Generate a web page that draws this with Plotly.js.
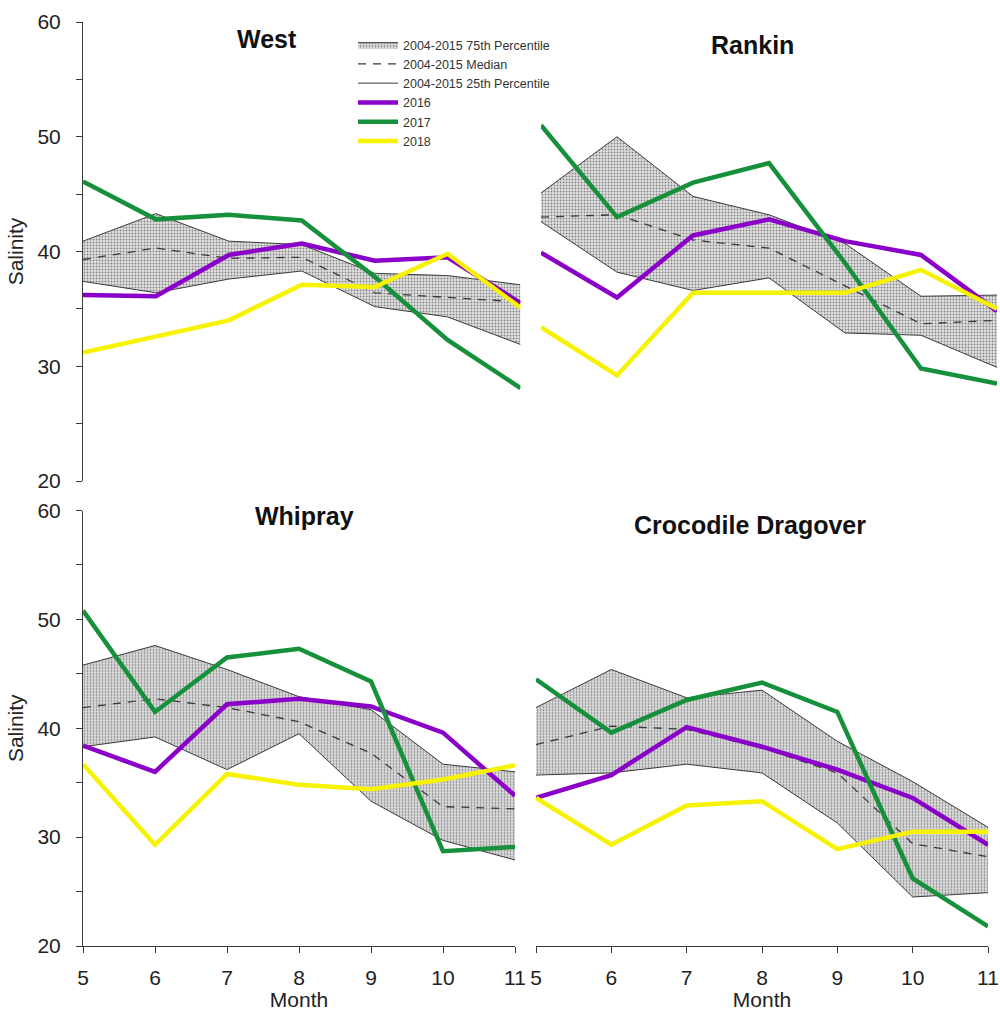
<!DOCTYPE html>
<html>
<head>
<meta charset="utf-8">
<script src="https://cdn.plot.ly/plotly-3.0.1.min.js"></script>
<style>
  html, body { margin: 0; padding: 0; background: #ffffff; }
  #chart { width: 1000px; height: 1011px; }
</style>
</head>
<body>
<div id="chart"></div>
<script>
// Monthly salinity: 2004-2015 percentile envelope vs. 2016-2018 by station
const months = [5, 6, 7, 8, 9, 10, 11];
const monthTicks = ['5', '6', '7', '8', '9', '10', '11'];
const stations = ['West', 'Rankin', 'Whipray', 'Crocodile Dragover'];

const westP75    = [40.9, 43.3, 40.9, 40.6, 38.1, 37.9, 37.1];
const westMedian = [39.3, 40.3, 39.4, 39.5, 36.4, 36.0, 35.6];
const westP25    = [37.4, 36.4, 37.6, 38.3, 35.2, 34.3, 31.9];
const west2016   = [36.2, 36.1, 39.7, 40.7, 39.2, 39.5, 35.5];
const west2017   = [46.1, 42.8, 43.2, 42.7, 37.8, 32.3, 28.1];
const west2018   = [31.2, 32.6, 34.0, 37.1, 36.9, 39.8, 35.1];

const rankinP75    = [45.1, 50.0, 44.8, 43.2, 40.7, 36.1, 36.2];
const rankinMedian = [43.0, 43.2, 41.0, 40.3, 37.0, 33.7, 34.0];
const rankinP25    = [42.6, 38.2, 36.6, 37.7, 32.9, 32.7, 29.9];
const rankin2016   = [39.9, 36.0, 41.4, 42.8, 40.9, 39.7, 34.8];
const rankin2017   = [51.0, 43.0, 46.0, 47.7, 39.0, 29.8, 28.5];
const rankin2018   = [33.4, 29.2, 36.4, 36.4, 36.4, 38.4, 35.0];

const whiprayP75    = [45.8, 47.6, 45.4, 42.9, 41.7, 36.7, 36.0];
const whiprayMedian = [41.9, 42.7, 41.9, 40.6, 37.7, 32.8, 32.6];
const whiprayP25    = [38.3, 39.2, 36.2, 39.5, 33.3, 29.7, 27.9];
const whipray2016   = [38.4, 36.0, 42.2, 42.7, 42.0, 39.6, 33.8];
const whipray2017   = [50.8, 41.5, 46.5, 47.3, 44.3, 28.7, 29.1];
const whipray2018   = [36.7, 29.3, 35.8, 34.8, 34.4, 35.3, 36.6];

const crocP75    = [41.9, 45.4, 42.8, 43.5, 38.8, 35.1, 30.9];
const crocMedian = [38.5, 40.2, 39.9, 38.2, 35.9, 29.4, 28.2];
const crocP25    = [35.7, 35.9, 36.7, 35.9, 31.3, 24.5, 24.9];
const croc2016   = [33.6, 35.7, 40.1, 38.3, 36.2, 33.6, 29.3];
const croc2017   = [44.5, 39.6, 42.6, 44.2, 41.5, 26.2, 21.8];
const croc2018   = [33.6, 29.3, 32.9, 33.3, 28.9, 30.5, 30.5];

const panels = [
  { name: stations[0], p75: westP75, med: westMedian, p25: westP25, s16: west2016, s17: west2017, s18: west2018, xa: 'x', ya: 'y' },
  { name: stations[1], p75: rankinP75, med: rankinMedian, p25: rankinP25, s16: rankin2016, s17: rankin2017, s18: rankin2018, xa: 'x2', ya: 'y2' },
  { name: stations[2], p75: whiprayP75, med: whiprayMedian, p25: whiprayP25, s16: whipray2016, s17: whipray2017, s18: whipray2018, xa: 'x3', ya: 'y3' },
  { name: stations[3], p75: crocP75, med: crocMedian, p25: crocP25, s16: croc2016, s17: croc2017, s18: croc2018, xa: 'x4', ya: 'y4' }
];

const FONT = 'Arial, "Liberation Sans", sans-serif';
const EDGE = '#3a3a3a';
const PURPLE = '#8a00c8';
const GREEN = '#16903a';
const YELLOW = '#f6f200';

const traces = [];
panels.forEach((p, i) => {
  const first = i === 0;
  traces.push({
    x: months, y: p.p25, xaxis: p.xa, yaxis: p.ya, mode: 'lines',
    name: '2004-2015 25th Percentile', legendrank: 3, showlegend: first,
    line: { color: EDGE, width: 1 }, hoverinfo: 'skip'
  });
  traces.push({
    x: months, y: p.p75, xaxis: p.xa, yaxis: p.ya, mode: 'lines',
    name: '2004-2015 75th Percentile', legendrank: 1, showlegend: first,
    line: { color: EDGE, width: 1 },
    fill: 'tonexty', fillcolor: '#d4d4d4',
    fillpattern: { shape: '.', size: 3, solidity: 0.3, fgcolor: '#858585', bgcolor: '#e0e0e0' },
    hoverinfo: 'skip'
  });
  traces.push({
    x: months, y: p.med, xaxis: p.xa, yaxis: p.ya, mode: 'lines',
    name: '2004-2015 Median', legendrank: 2, showlegend: first,
    line: { color: EDGE, width: 1.3, dash: '8px,7px' }
  });
  traces.push({
    x: months, y: p.s16, xaxis: p.xa, yaxis: p.ya, mode: 'lines',
    name: '2016', legendrank: 4, showlegend: first,
    line: { color: PURPLE, width: 4.5 }
  });
  traces.push({
    x: months, y: p.s17, xaxis: p.xa, yaxis: p.ya, mode: 'lines',
    name: '2017', legendrank: 5, showlegend: first,
    line: { color: GREEN, width: 4.5 }
  });
  traces.push({
    x: months, y: p.s18, xaxis: p.xa, yaxis: p.ya, mode: 'lines',
    name: '2018', legendrank: 6, showlegend: first,
    line: { color: YELLOW, width: 4.5 }
  });
});

const W = 1000, H = 1011;
const px = v => v / W;
const py = v => 1 - v / H;

const salinityAxis = (top, bottom, anchor) => ({
  domain: [py(bottom), py(top)], range: [20, 60], anchor: anchor,
  showline: true, linecolor: EDGE, linewidth: 1, mirror: false,
  ticks: 'outside', ticklen: 6, tickwidth: 1, tickcolor: EDGE,
  tickmode: 'linear', tick0: 20, dtick: 10,
  minor: { dtick: 5, ticks: 'outside', ticklen: 6, tickwidth: 1, tickcolor: EDGE, showgrid: false },
  tickfont: { family: FONT, size: 21, color: '#222' },
  ticklabelstandoff: 11,
  showgrid: false, zeroline: false,
  title: { text: 'Salinity', font: { family: FONT, size: 21, color: '#222' }, standoff: 8 }
});

const hiddenY = (top, bottom, anchor) => ({
  domain: [py(bottom), py(top)], range: [20, 60], anchor: anchor, visible: false
});

const hiddenX = (left, right, anchor) => ({
  domain: [px(left), px(right)], range: [5, 11], anchor: anchor, visible: false
});

const monthAxis = (left, right, anchor) => ({
  domain: [px(left), px(right)], range: [5, 11], anchor: anchor,
  showline: true, linecolor: EDGE, linewidth: 1,
  ticks: 'outside', ticklen: 6, tickwidth: 1, tickcolor: EDGE,
  tickmode: 'array', tickvals: months, ticktext: monthTicks,
  tickfont: { family: FONT, size: 21, color: '#222' },
  ticklabelstandoff: 7,
  showgrid: false, zeroline: false,
  title: { text: 'Month', font: { family: FONT, size: 21, color: '#222' }, standoff: 14 }
});

const titleAnn = (text, x, y) => ({
  text: '<b>' + text + '</b>', xref: 'paper', yref: 'paper',
  x: px(x), y: py(y), xanchor: 'center', yanchor: 'middle', showarrow: false,
  font: { family: FONT, size: 25, color: '#111' }
});

const layout = {
  width: W, height: H,
  margin: { l: 0, r: 0, t: 0, b: 0 },
  paper_bgcolor: '#ffffff', plot_bgcolor: 'rgba(0,0,0,0)',
  showlegend: true,
  legend: {
    x: px(353), y: py(30), xanchor: 'left', yanchor: 'top',
    bgcolor: 'rgba(0,0,0,0)', borderwidth: 0,
    font: { family: FONT, size: 12.5, color: '#333' },
    tracegroupgap: 0, itemwidth: 40, traceorder: 'normal'
  },
  xaxis:  hiddenX(83, 520.5, 'y'),
  yaxis:  salinityAxis(22, 481, 'x'),
  xaxis2: hiddenX(541, 997, 'y2'),
  yaxis2: hiddenY(22, 481, 'x2'),
  xaxis3: monthAxis(83, 515, 'y3'),
  yaxis3: salinityAxis(510.5, 946, 'x3'),
  xaxis4: monthAxis(536, 988, 'y4'),
  yaxis4: hiddenY(510.5, 946, 'x4'),
  annotations: [
    titleAnn(stations[0], 267, 39),
    titleAnn(stations[1], 752, 45),
    titleAnn(stations[2], 304, 516),
    titleAnn(stations[3], 750, 525)
  ]
};

Plotly.newPlot('chart', traces, layout, { staticPlot: true, displayModeBar: false });
</script>
</body>
</html>
